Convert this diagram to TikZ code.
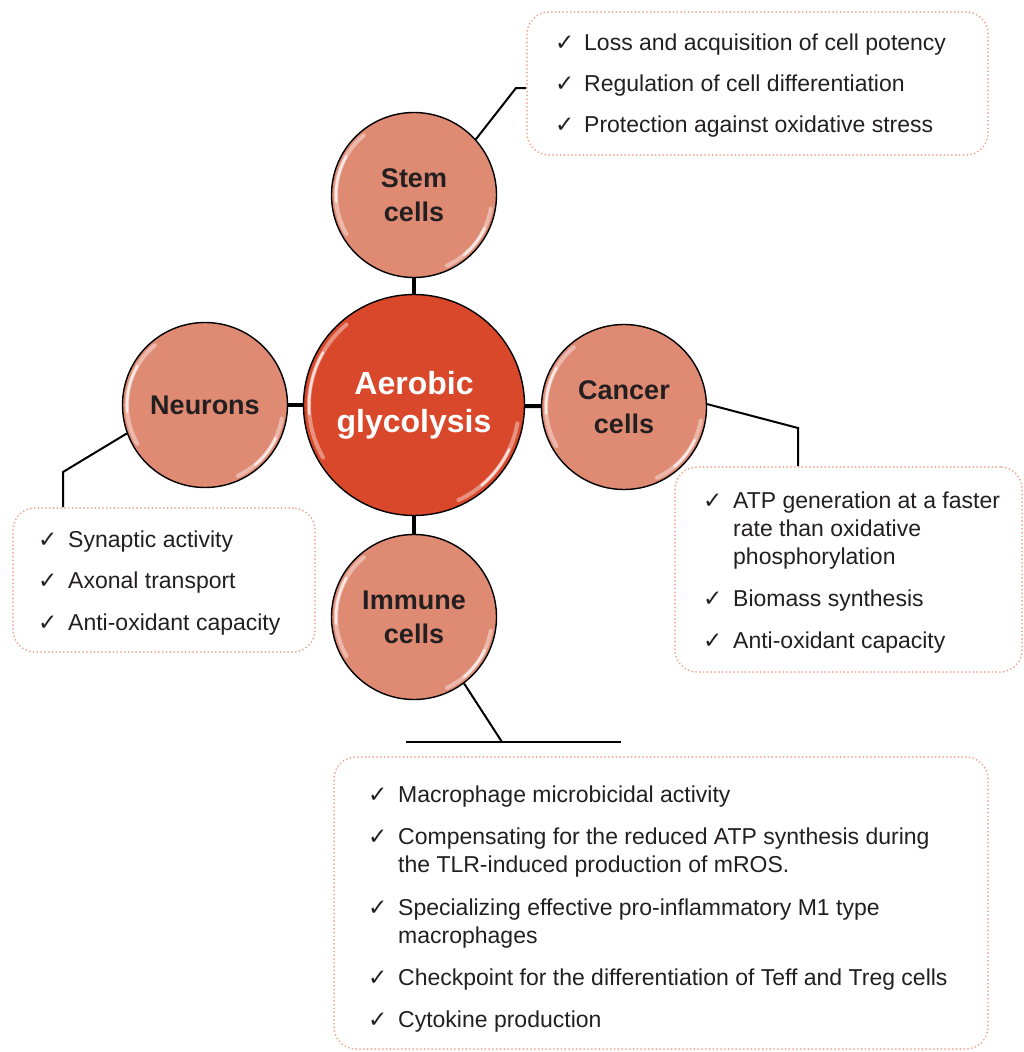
\documentclass[tikz,border=0pt]{standalone}
\usepackage{fontspec}
\setmainfont{Liberation Sans}
\newfontfamily\symfont{DejaVu Sans}
\usepackage{tikz}

\definecolor{ink}{HTML}{231F20}
\definecolor{ball}{HTML}{DF8A73}
\definecolor{corered}{HTML}{D9482B}
\definecolor{dots}{HTML}{F2A594}

\newcommand{\tick}{{\symfont\fontsize{23}{23}\selectfont ✓}}

\begin{document}
\begin{tikzpicture}[x=1pt, y=-1pt,
    cell/.style={circle, draw=black, line width=1.4pt, fill=ball, minimum size=165pt,
        inner sep=0pt, align=center, text=ink, font=\bfseries\fontsize{27}{34}\selectfont},
    listbox/.style={draw=dots, line width=2pt, dash pattern=on 0pt off 3.8pt,
        line cap=round, rounded corners=22pt, inner sep=0pt},
    chk/.style={anchor=base west, inner sep=0pt, text=ink},
    item/.style={anchor=base west, inner sep=0pt, text=ink, align=left,
        font=\fontsize{23}{28}\selectfont},
    spoke/.style={line width=4pt},
    lead/.style={line width=2pt},
    glint/.style={white, line width=4pt, opacity=0.4, line cap=round}]

    \useasboundingbox (0,0) rectangle (1023,1052);

    % Kreise
    \node[cell, minimum size=221pt, fill=corered, text=white,
        font=\bfseries\fontsize{32}{38}\selectfont] (core) at (414,405) {Aerobic\\glycolysis};
    \node[cell] (stem) at (414,195) {Stem\\cells};
    \node[cell] (neuro) at (205,405) {Neurons};
    \node[cell] (cancer) at (624,407) {Cancer\\cells};
    \node[cell] (immune) at (414,617) {Immune\\cells};

    % Glanzlichter
    \foreach \n/\r in {stem/78pt, neuro/78pt, cancer/78pt, immune/78pt, core/105pt}
    {
        \draw[glint] (\n.center) ++(130:\r) arc[start angle=130, end angle=210, radius=\r];
        \draw[glint, opacity=0.7, line width=2.5pt] (\n.center) ++(150:\r) arc[start angle=150, end angle=185, radius=\r];
        \draw[glint] (\n.center) ++(-10:\r) arc[start angle=-10, end angle=-65, radius=\r];
        \draw[glint, opacity=0.7, line width=2.5pt] (\n.center) ++(-25:\r) arc[start angle=-25, end angle=-50, radius=\r];
    }

    % Speichen
    \draw[spoke] (stem) -- (core);
    \draw[spoke] (neuro) -- (core);
    \draw[spoke] (cancer) -- (core);
    \draw[spoke] (immune) -- (core);

    % Kaesten
    \node[listbox, minimum width=461pt, minimum height=143pt] (stembox) at (757.5,83.5) {};
    \node[listbox, minimum width=302pt, minimum height=144pt] (neurobox) at (164,580) {};
    \node[listbox, minimum width=347pt, minimum height=205pt] (cancerbox) at (848.5,569.5) {};
    \node[listbox, minimum width=654pt, minimum height=292pt] (immunebox) at (661,903) {};

    % Verbinder
    \coordinate (stemknee) at (516,88);
    \draw[lead] (stem.42) -- (stemknee) -- (stemknee -| stembox.west);
    \coordinate (neuroknee) at (63,472);
    \draw[lead] (neuro.200) -- (neuroknee) -- (neuroknee |- neurobox.north);
    \coordinate (cancerknee) at (798,428);
    \draw[lead] (cancer.2) -- (cancerknee) -- (cancerknee |- cancerbox.north);
    \coordinate (immknee) at (502,742);
    \coordinate (immbarL) at (406,742);
    \coordinate (immbarR) at (621,742);
    \draw[lead] (immune.-53) -- (immknee);
    \draw[lead] (immbarL) -- (immbarR);

    % Listen (y = erste Grundlinie, \m = weitere Zeilen)
    \foreach \i/\y/\m/\t in {1/50/0/Loss and acquisition of cell potency,
        2/91/0/Regulation of cell differentiation,
        3/132/0/Protection against oxidative stress}
    {
        \node[chk] (sc\i) at (555,\y) {\tick};
        \node[item] (st\i) at (584,{\y+28*\m}) {\t};
    }
    \foreach \i/\y/\m/\t in {1/547/0/Synaptic activity,
        2/588/0/Axonal transport,
        3/630/0/Anti-oxidant capacity}
    {
        \node[chk] (nc\i) at (38,\y) {\tick};
        \node[item] (nt\i) at (68,{\y+28*\m}) {\t};
    }
    \foreach \i/\y/\m/\t in {1/508/2/{ATP generation at a faster\\rate than oxidative\\phosphorylation},
        2/606/0/Biomass synthesis,
        3/648/0/Anti-oxidant capacity}
    {
        \node[chk] (cc\i) at (703,\y) {\tick};
        \node[item] (ct\i) at (733,{\y+28*\m}) {\t};
    }
    \foreach \i/\y/\m/\t in {1/802/0/Macrophage microbicidal activity,
        2/844/1/{Compensating for the reduced ATP synthesis during\\the TLR-induced production of mROS.},
        3/915/1/{Specializing effective pro-inflammatory M1 type\\macrophages},
        4/985/0/Checkpoint for the differentiation of Teff and Treg cells,
        5/1027/0/Cytokine production}
    {
        \node[chk] (ic\i) at (368,\y) {\tick};
        \node[item] (it\i) at (398,{\y+28*\m}) {\t};
    }
\end{tikzpicture}
\end{document}
